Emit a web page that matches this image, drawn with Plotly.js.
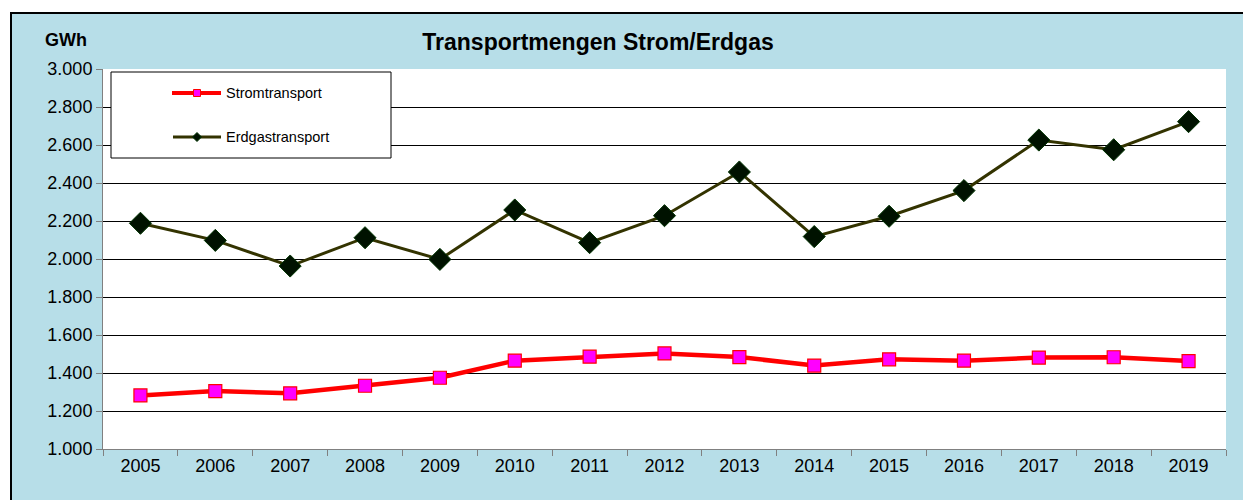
<!DOCTYPE html>
<html>
<head>
<meta charset="utf-8">
<script src="https://cdn.plot.ly/plotly-3.0.1.min.js"></script>
<style>
  html, body { margin: 0; padding: 0; background: #ffffff; width: 1243px; height: 500px; overflow: hidden; }
  #frame { position: absolute; left: 10px; top: 12px; width: 1233px; height: 488px;
           border-top: 2px solid #000; border-left: 2px solid #000; background: #B7DEE8; }
  #chart { position: absolute; left: 0; top: 0; width: 1231px; height: 486px; }
</style>
</head>
<body>
<div id="frame"><div id="chart"></div></div>
<script>
const years = ['2005','2006','2007','2008','2009','2010','2011','2012','2013','2014','2015','2016','2017','2018','2019'];
const stromtransport = [1282, 1305, 1293, 1333, 1375, 1465, 1486, 1503, 1484, 1439, 1472, 1465, 1481, 1483, 1463];
const erdgastransport = [2188, 2098, 1963, 2112, 1998, 2258, 2086, 2228, 2458, 2118, 2225, 2360, 2626, 2575, 2723];
const yTicks = [1000, 1200, 1400, 1600, 1800, 2000, 2200, 2400, 2600, 2800, 3000];
const seriesNames = ['Stromtransport', 'Erdgastransport'];

// plot area in page pixels: left 103, right 1226, top 69, bottom 449
const PL = 103, PR = 1226, PT = 69, PB = 449;
const px = x => (x - PL) / (PR - PL);
const py = y => (PB - y) / (PB - PT);

const font = 'Arial, "Liberation Sans", sans-serif';

const traces = [
  {
    x: years, y: erdgastransport, name: seriesNames[1], type: 'scatter', mode: 'lines+markers',
    line: { color: '#333300', width: 3 },
    marker: { symbol: 'diamond', size: 17, color: '#001200', line: { color: '#003300', width: 1 } },
    showlegend: false, cliponaxis: false
  },
  {
    x: years, y: stromtransport, name: seriesNames[0], type: 'scatter', mode: 'lines+markers',
    line: { color: '#FF0000', width: 4.5 },
    marker: { symbol: 'square', size: 13, color: '#FF00FF', line: { color: '#FF0000', width: 1.2 } },
    showlegend: false, cliponaxis: false
  }
];

const shapes = [
  // legend box
  { type: 'rect', xref: 'paper', yref: 'paper', x0: px(111), x1: px(391), y0: py(158), y1: py(72),
    line: { color: '#000', width: 1 }, fillcolor: '#ffffff', layer: 'above' },
  // legend samples
  { type: 'line', xref: 'paper', yref: 'paper', x0: px(172), x1: px(221), y0: py(93), y1: py(93),
    line: { color: '#FF0000', width: 4 }, layer: 'above' },
  { type: 'rect', xref: 'paper', yref: 'paper', x0: px(193.5), x1: px(200.5), y0: py(96.5), y1: py(89.5),
    line: { color: '#FF0000', width: 1 }, fillcolor: '#FF00FF', layer: 'above' },
  { type: 'line', xref: 'paper', yref: 'paper', x0: px(173), x1: px(221), y0: py(137), y1: py(137),
    line: { color: '#333300', width: 3 }, layer: 'above' },
  { type: 'path', xref: 'paper', yref: 'paper',
    path: 'M ' + px(197) + ' ' + py(132.5) + ' L ' + px(201.5) + ' ' + py(137) + ' L ' + px(197) + ' ' + py(141.5) + ' L ' + px(192.5) + ' ' + py(137) + ' Z',
    line: { color: '#003300', width: 1 }, fillcolor: '#001200', layer: 'above' }
];

const annotations = [
  { text: '<b>GWh</b>', xref: 'paper', yref: 'paper', x: px(66), y: py(40), xanchor: 'center', yanchor: 'middle',
    showarrow: false, font: { family: font, size: 18, color: '#000' } },
  { text: seriesNames[0], xref: 'paper', yref: 'paper', x: px(224), y: py(93), xanchor: 'left', yanchor: 'middle',
    showarrow: false, font: { family: font, size: 14.5, color: '#000' } },
  { text: seriesNames[1], xref: 'paper', yref: 'paper', x: px(224), y: py(137), xanchor: 'left', yanchor: 'middle',
    showarrow: false, font: { family: font, size: 14.5, color: '#000' } }
];

const layout = {
  width: 1231, height: 486,
  margin: { l: PL - 12, r: 1231 - (PR - 12), t: PT - 14, b: 486 - (PB - 14), pad: 0 },
  paper_bgcolor: '#B7DEE8',
  plot_bgcolor: '#ffffff',
  separators: ',.',
  title: { text: '<b>Transportmengen Strom/Erdgas</b>', font: { family: font, size: 23, color: '#000' },
           xref: 'paper', x: px(598), xanchor: 'center', yref: 'paper', y: py(49), yanchor: 'middle' },
  xaxis: {
    type: 'category', categoryarray: years, range: [-0.5, years.length - 0.5],
    showgrid: false, zeroline: false,
    showline: true, linecolor: '#808080', linewidth: 1, mirror: false,
    ticks: 'outside', tickson: 'boundaries', ticklen: 6, tickcolor: '#808080', tickwidth: 1,
    tickfont: { family: font, size: 18, color: '#000' }
  },
  yaxis: {
    range: [1000, 3000], tickvals: yTicks, tickformat: ',.0f', ticksuffix: '\u00a0',
    showgrid: true, gridcolor: '#000000', gridwidth: 1, zeroline: false,
    showline: true, linecolor: '#808080', linewidth: 1,
    ticks: 'outside', ticklen: 6, tickcolor: '#808080', tickwidth: 1,
    tickfont: { family: font, size: 18, color: '#000' }
  },
  shapes: shapes,
  annotations: annotations,
  showlegend: false
};

Plotly.newPlot('chart', traces, layout, { staticPlot: true, displayModeBar: false });
</script>
</body>
</html>
